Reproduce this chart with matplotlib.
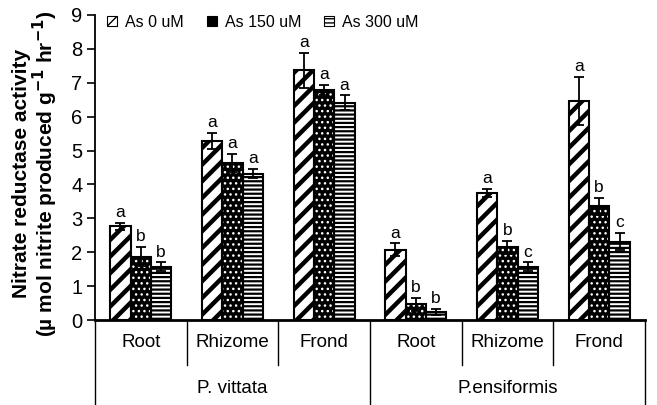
import matplotlib
matplotlib.use("Agg")
import matplotlib.pyplot as plt
from matplotlib.patches import Patch
from matplotlib.transforms import blended_transform_factory
import numpy as np

plt.rcParams['font.family'] = ['Liberation Sans', 'DejaVu Sans']

# Tissues within each species
categories = ["Root", "Rhizome", "Frond", "Root", "Rhizome", "Frond"]
species = ["P. vittata", "P.ensiformis"]
series_names = ["As 0 uM", "As 150 uM", "As 300 uM"]

# Nitrate reductase activity per treatment
as0 = [2.77, 5.29, 7.37, 2.08, 3.76, 6.47]
as150 = [1.87, 4.64, 6.78, 0.46, 2.14, 3.36]
as300 = [1.57, 4.32, 6.41, 0.23, 1.57, 2.31]

# Standard errors
as0_err = [0.10, 0.24, 0.51, 0.18, 0.12, 0.71]
as150_err = [0.29, 0.26, 0.15, 0.20, 0.19, 0.25]
as300_err = [0.13, 0.14, 0.22, 0.09, 0.13, 0.25]

# Significance letters
as0_sig = ["a", "a", "a", "a", "a", "a"]
as150_sig = ["b", "a", "a", "b", "b", "b"]
as300_sig = ["b", "a", "a", "b", "c", "c"]

yticks = [0, 1, 2, 3, 4, 5, 6, 7, 8, 9]

values = [as0, as150, as300]
errors = [as0_err, as150_err, as300_err]
letters = [as0_sig, as150_sig, as300_sig]

# fill style per series: (face, hatch colour, hatch, hatch width)
styles = [
    ("white", "black", "//", 3.2),
    ("black", "white", "...", 1.0),
    ("white", "black", "----", 1.6),
]

fig = plt.figure(figsize=(6.57, 4.05), dpi=100)
ax = fig.add_axes([95 / 657, 85 / 405, 550 / 657, 305 / 405])

x = np.arange(len(categories))
w = 0.222
offsets = [-w, 0.0, w]

for vals, errs, sig, off, (face, hcol, hatch, hlw) in zip(values, errors, letters, offsets, styles):
    with plt.rc_context({'hatch.linewidth': hlw}):
        ax.bar(x + off, vals, w, color=face, edgecolor=hcol, hatch=hatch, linewidth=0, zorder=2)
    ax.bar(x + off, vals, w, fill=False, edgecolor="black", linewidth=1.5, zorder=3)
    ax.errorbar(x + off, vals, yerr=errs, fmt="none", ecolor="black", elinewidth=1.3,
                capsize=3.5, capthick=1.3, zorder=4)
    for xi, v, e, s in zip(x + off, vals, errs, sig):
        ax.annotate(s, (xi, v + e), xytext=(0, 2), textcoords="offset points",
                    ha="center", va="bottom", fontsize=12.5)

ax.set_xlim(-0.5, len(categories) - 0.5)
ax.set_ylim(0, 9)
ax.set_yticks(yticks)
ax.tick_params(axis="y", labelsize=14.5, length=6, width=1.2, direction="out", pad=3)
ax.set_xticks([])
for side in ("top", "right"):
    ax.spines[side].set_visible(False)
ax.spines["left"].set_linewidth(1.3)
ax.spines["bottom"].set_linewidth(2.0)

ax.set_ylabel("Nitrate reductase activity\n(\u00b5 mol nitrite produced g$^{\\mathbf{-1}}$ hr$^{\\mathbf{-1}}$)",
              fontsize=15, fontweight="bold", linespacing=1.0)
ax.yaxis.set_label_coords(-0.063, 0.48)

# two-level category axis below the plot
trans = blended_transform_factory(ax.transData, ax.transAxes)
short_sep = [0.5, 1.5, 3.5, 4.5]
long_sep = [-0.5, 2.5, 5.5]
for xs in short_sep:
    ax.plot([xs, xs], [0, -0.1475], transform=trans, color="black", lw=1.0, clip_on=False)
for xs in long_sep:
    ax.plot([xs, xs], [0, -0.30], transform=trans, color="black", lw=1.0, clip_on=False)
for xi, name in zip(x, categories):
    ax.text(xi, -0.075, name, transform=trans, ha="center", va="center", fontsize=13.5)
for gi, name in enumerate(species):
    ax.text(1.0 + 3 * gi, -0.223, name, transform=trans, ha="center", va="center", fontsize=13.5)

handles = []
for name, (face, hcol, hatch, hlw) in zip(series_names, styles):
    with plt.rc_context({'hatch.linewidth': hlw}):
        handles.append(Patch(facecolor=face, edgecolor=hcol, hatch=hatch, linewidth=0.8, label=name))
leg = ax.legend(handles=handles, loc="center left", bbox_to_anchor=(0.022, 0.977), ncol=3,
                frameon=False, fontsize=11.5, handlelength=0.65, handleheight=0.65,
                handletextpad=0.5, columnspacing=1.4, borderaxespad=0, borderpad=0)
for h in leg.legend_handles:
    h.set_edgecolor("black")

fig.savefig("out.png", dpi=100)
